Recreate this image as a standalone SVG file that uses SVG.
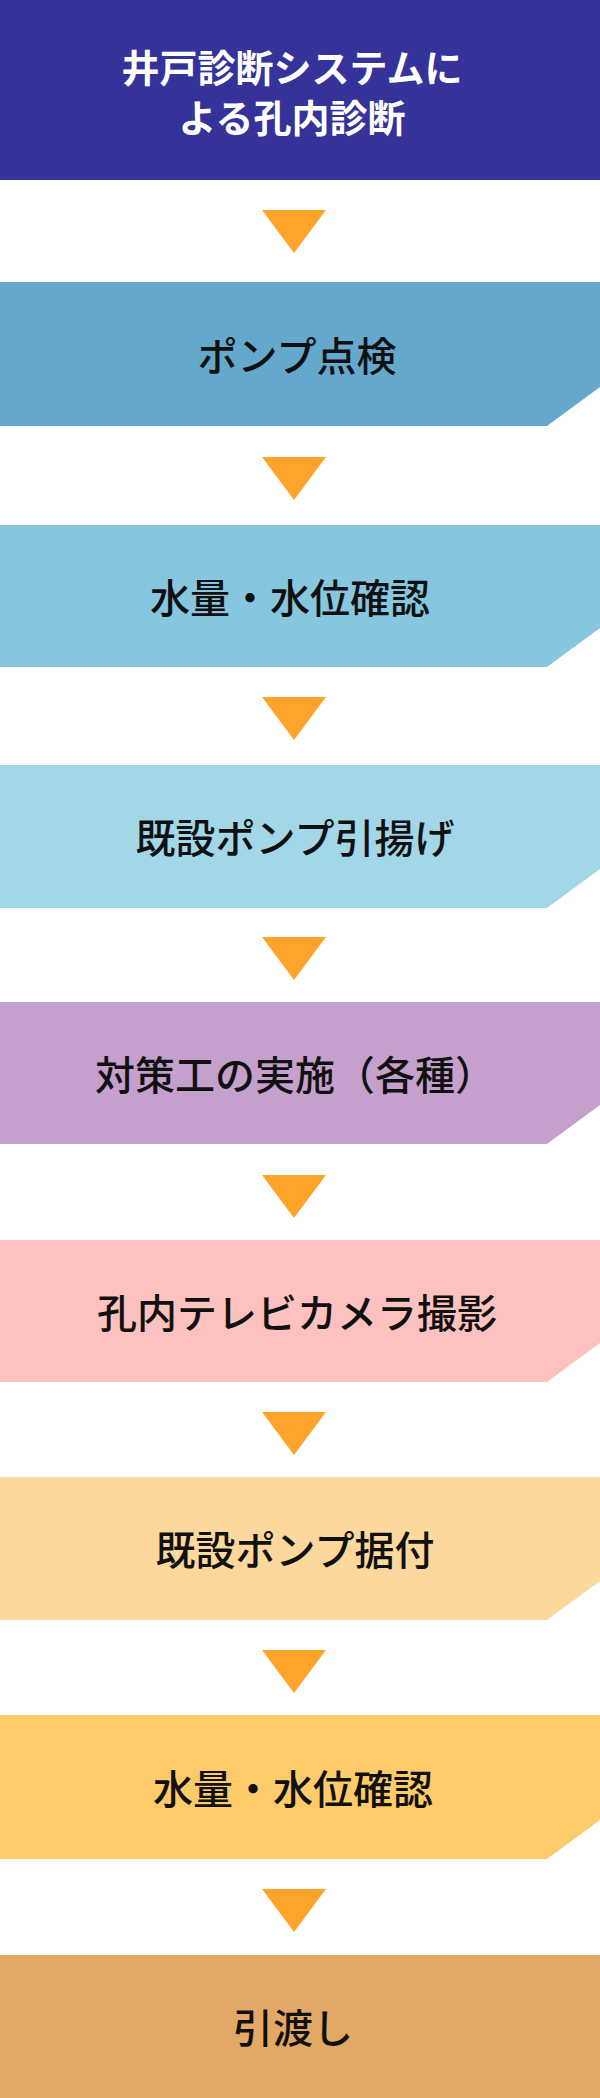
<svg xmlns="http://www.w3.org/2000/svg" width="600" height="2098" viewBox="0 0 600 2098">
<style>
text{font-family:"Noto Sans CJK JP","Noto Sans",sans-serif;font-size:40px;text-anchor:middle;dominant-baseline:central;fill:#111;font-weight:500}
.h{fill:#fff;font-weight:700;font-size:38px}
.arr{fill:#FFA42B}
.cut{fill:#fff}
</style>
<rect width="600" height="2098" fill="#fff"/>
<g id="n0"><rect x="0" y="0" width="600" height="180" fill="#353399"/><text class="h" x="292" y="65">井戸診断システムに</text><text class="h" x="292" y="115">よる孔内診断</text></g>
<g id="n1"><rect x="0" y="282" width="600" height="144" fill="#65A8CE"/><polygon class="cut" points="547,426 600,387 600,426"/><text x="297" y="354">ポンプ点検</text></g>
<g id="n2"><rect x="0" y="525" width="600" height="142" fill="#86C7DF"/><polygon class="cut" points="547,667 600,628 600,667"/><text x="290" y="596">水量・水位確認</text></g>
<g id="n3"><rect x="0" y="765" width="600" height="143" fill="#A2D7E7"/><polygon class="cut" points="547,908 600,869 600,908"/><text x="295" y="836">既設ポンプ引揚げ</text></g>
<g id="n4"><rect x="0" y="1002" width="600" height="142" fill="#C6A0CC"/><polygon class="cut" points="547,1144 600,1105 600,1144"/><text x="295" y="1073">対策工の実施（各種）</text></g>
<g id="n5"><rect x="0" y="1240" width="600" height="142" fill="#FDC2C0"/><polygon class="cut" points="547,1382 600,1343 600,1382"/><text x="297" y="1311">孔内テレビカメラ撮影</text></g>
<g id="n6"><rect x="0" y="1477" width="600" height="143" fill="#FDD89D"/><polygon class="cut" points="547,1620 600,1581 600,1620"/><text x="295" y="1548">既設ポンプ据付</text></g>
<g id="n7"><rect x="0" y="1715" width="600" height="144" fill="#FECB6A"/><polygon class="cut" points="547,1859 600,1820 600,1859"/><text x="293" y="1787">水量・水位確認</text></g>
<g id="n8"><rect x="0" y="1955" width="600" height="143" fill="#E3A866"/><text x="293" y="2026">引渡し</text></g>
<g id="connectors">
<polygon class="arr" points="262,210 326,210 294,253"/>
<polygon class="arr" points="262,457 326,457 294,500"/>
<polygon class="arr" points="262,697 326,697 294,740"/>
<polygon class="arr" points="262,937 326,937 294,980"/>
<polygon class="arr" points="262,1175 326,1175 294,1218"/>
<polygon class="arr" points="262,1412 326,1412 294,1455"/>
<polygon class="arr" points="262,1650 326,1650 294,1693"/>
<polygon class="arr" points="262,1889 326,1889 294,1932"/>
</g>
</svg>
